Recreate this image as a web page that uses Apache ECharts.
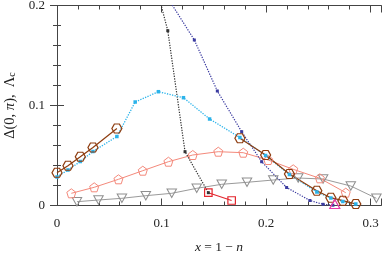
<!DOCTYPE html>
<html><head><meta charset="utf-8">
<script src="https://cdn.jsdelivr.net/npm/echarts@6/dist/echarts.min.js"></script>
<style>html,body{margin:0;padding:0;background:#fff}#c{width:383px;height:253px}</style>
</head><body><div id="c"></div>
<script>
// ---- data ----
const hexX1 = [0, 0.0105, 0.0223, 0.0344, 0.0573];
const hexY1 = [0.0328, 0.0398, 0.0487, 0.0580, 0.0770];
const hexX2 = [0.175, 0.1996, 0.2224, 0.2486, 0.262, 0.2735, 0.2859];
const hexY2 = [0.0672, 0.0505, 0.0315, 0.0148, 0.0078, 0.0048, 0.0015];

const cyanX = [0, 0.0105, 0.0223, 0.0344, 0.0573, 0.0748, 0.097, 0.121, 0.146, 0.175, 0.1996, 0.2224, 0.2486, 0.262, 0.2735, 0.2859];
const cyanY = [0.0285, 0.0355, 0.044, 0.054, 0.069, 0.1035, 0.1138, 0.1078, 0.0865, 0.068, 0.050, 0.031, 0.0135, 0.0075, 0.004, 0.0015];

const blackX = [0.09, 0.106, 0.1225, 0.1448];
const blackY = [0.239, 0.1748, 0.0538, 0.0128];

const navyX = [0.0864, 0.1314, 0.1534, 0.1767, 0.1958, 0.2197, 0.242, 0.2546, 0.264];
const navyY = [0.24, 0.1655, 0.1145, 0.0738, 0.0438, 0.018, 0.005, 0.0012, 0.0003];

const redX = [0.1448, 0.1671];
const redY = [0.0128, 0.005];

const pinkX = [0.2658];
const pinkY = [0.0015];

const grayX = [0.0191, 0.0397, 0.0621, 0.085, 0.1098, 0.1337, 0.1576, 0.1818, 0.2069, 0.2308, 0.2546, 0.2811, 0.3056];
const grayY = [0.0038, 0.0055, 0.0072, 0.0098, 0.0122, 0.0172, 0.0212, 0.0232, 0.0255, 0.0275, 0.0265, 0.0195, 0.0072];

const pentX = [0.0137, 0.0356, 0.0588, 0.0821, 0.1066, 0.1299, 0.1543, 0.1782, 0.2021, 0.226, 0.2515, 0.2763];
const pentY = [0.0122, 0.0182, 0.0262, 0.0348, 0.0438, 0.0505, 0.0538, 0.0528, 0.0455, 0.0362, 0.0272, 0.0128];

const xTickLabels = ['0', '0.1', '0.2', '0.3'];
const yTickLabels = ['0', '0.1', '0.2'];

// ---- chart ----
const zip = (xs, ys) => xs.map((x, i) => [x, ys[i]]);
const SERIF = "'Liberation Serif','DejaVu Serif',serif";
const AX = '#444';
const HEX = 'path://M0,50 L25,6 L75,6 L100,50 L75,94 L25,94 Z';
const PENT = 'path://M50,0 L97.6,34.5 L79.4,90.5 L20.6,90.5 L2.4,34.5 Z';
const CLEAR = 'rgba(255,255,255,0)';
const DOT = [1.3, 1.3];

function xAx(pos, major, labels) {
  return {
    type: 'value', min: 0, max: 0.31, interval: major ? 0.1 : 0.02, position: pos,
    axisLine: { show: !major, lineStyle: { color: AX, width: 1 } },
    axisTick: { show: true, inside: true, length: major ? 7 : 4, lineStyle: { color: AX } },
    axisLabel: labels ? {
      show: true, margin: 12, fontFamily: SERIF, fontSize: 13, color: '#222',
      formatter: v => { const k = Math.round(v * 10); return Math.abs(v * 10 - k) < 1e-6 ? xTickLabels[k] || '' : ''; }
    } : { show: false },
    splitLine: { show: false },
    ...(labels ? {
      name: '{i|x}{a| = 1 − }{i|n}', nameLocation: 'middle', nameGap: 35,
      nameTextStyle: { fontFamily: SERIF, fontSize: 13, color: '#222',
        rich: { i: { fontFamily: SERIF, fontSize: 13.5, fontStyle: 'italic', color: '#222' },
                a: { fontFamily: SERIF, fontSize: 13.5, color: '#222' } } }
    } : {})
  };
}
function yAx(pos, labels) {
  return {
    type: 'value', min: 0, max: 0.2, interval: 0.1, position: pos,
    axisLine: { show: true, lineStyle: { color: AX, width: 1 } },
    axisTick: { show: true, inside: true, length: 7, lineStyle: { color: AX } },
    minorTick: { show: true, splitNumber: 5, length: 4, lineStyle: { color: AX } },
    axisLabel: labels ? {
      show: true, margin: 12, fontFamily: SERIF, fontSize: 13, color: '#222',
      formatter: v => yTickLabels[Math.round(v * 10)] || ''
    } : { show: false },
    splitLine: { show: false }, minorSplitLine: { show: false },
    ...(labels ? {
      name: '{a|Δ(0, }{i|π}{a|),  Λ}{s|c}', nameLocation: 'middle', nameGap: 24,
      nameTextStyle: { fontFamily: SERIF, fontSize: 14.5, color: '#222',
        rich: { a: { fontFamily: SERIF, fontSize: 14.5, color: '#222' },
                i: { fontFamily: SERIF, fontSize: 14.5, fontStyle: 'italic', color: '#222' },
                s: { fontFamily: SERIF, fontSize: 10, color: '#222', verticalAlign: 'bottom', padding: [6, 0, 0, 0] } } }
    } : {})
  };
}

function lineSer(name, data, opt) {
  return Object.assign({
    type: 'line', name, data, animation: false, silent: true, clip: true,
    showAllSymbol: true, emphasis: { disabled: true }
  }, opt);
}

const option = {
  animation: false,
  backgroundColor: '#fff',
  grid: { left: 57, right: 2, top: 5.5, bottom: 47.5, containLabel: false, outerBoundsMode: 'none' },
  xAxis: [xAx('bottom', false, true), xAx('bottom', true, false), xAx('top', false, false), xAx('top', true, false)],
  yAxis: [yAx('left', true), yAx('right', false)],
  series: [
    lineSer('gray', zip(grayX, grayY), {
      symbol: 'triangle', symbolRotate: 180, symbolSize: [9.5, 8.5],
      lineStyle: { color: '#9a9a9a', width: 1 },
      itemStyle: { color: CLEAR, borderColor: '#8f8f8f', borderWidth: 1 }
    }),
    lineSer('pent', zip(pentX, pentY), {
      symbol: PENT, symbolSize: [9, 9],
      lineStyle: { color: '#f4897b', width: 1 },
      itemStyle: { color: CLEAR, borderColor: '#f4897b', borderWidth: 1 }
    }),
    lineSer('black', zip(blackX, blackY), {
      symbol: 'rect', symbolSize: 3,
      lineStyle: { color: '#333', width: 1.2, type: DOT },
      itemStyle: { color: '#333' }
    }),
    lineSer('red', zip(redX, redY), {
      symbol: 'rect', symbolSize: 7.5,
      lineStyle: { color: '#e3262e', width: 1.2 },
      itemStyle: { color: CLEAR, borderColor: '#e3262e', borderWidth: 1.2 }
    }),
    lineSer('navy', zip(navyX, navyY), {
      symbol: 'rect', symbolSize: 3,
      lineStyle: { color: '#3b3ba0', width: 1.2, type: DOT },
      itemStyle: { color: '#3b3ba0' }
    }),
    lineSer('cyan', zip(cyanX, cyanY), {
      symbol: 'rect', symbolSize: 3.5,
      lineStyle: { color: '#2bb3ea', width: 1.3, type: DOT },
      itemStyle: { color: '#2bb3ea' }
    }),
    lineSer('hex1', zip(hexX1, hexY1), {
      symbol: HEX, symbolSize: [10, 9],
      lineStyle: { color: '#8e3d10', width: 1.2 },
      itemStyle: { color: CLEAR, borderColor: '#8e3d10', borderWidth: 1.2 }
    }),
    lineSer('hex2', zip(hexX2, hexY2), {
      symbol: HEX, symbolSize: [10, 9],
      lineStyle: { color: '#8e3d10', width: 1.2 },
      itemStyle: { color: CLEAR, borderColor: '#8e3d10', borderWidth: 1.2 }
    }),
    lineSer('pink', zip(pinkX, pinkY), {
      symbol: 'triangle', symbolSize: [10, 9],
      lineStyle: { color: '#e83aa8', width: 1 },
      itemStyle: { color: CLEAR, borderColor: '#e83aa8', borderWidth: 1.2 }
    })
  ]
};
const chart = echarts.init(document.getElementById('c'), null, { renderer: 'canvas' });
chart.setOption(option);
</script></body></html>
